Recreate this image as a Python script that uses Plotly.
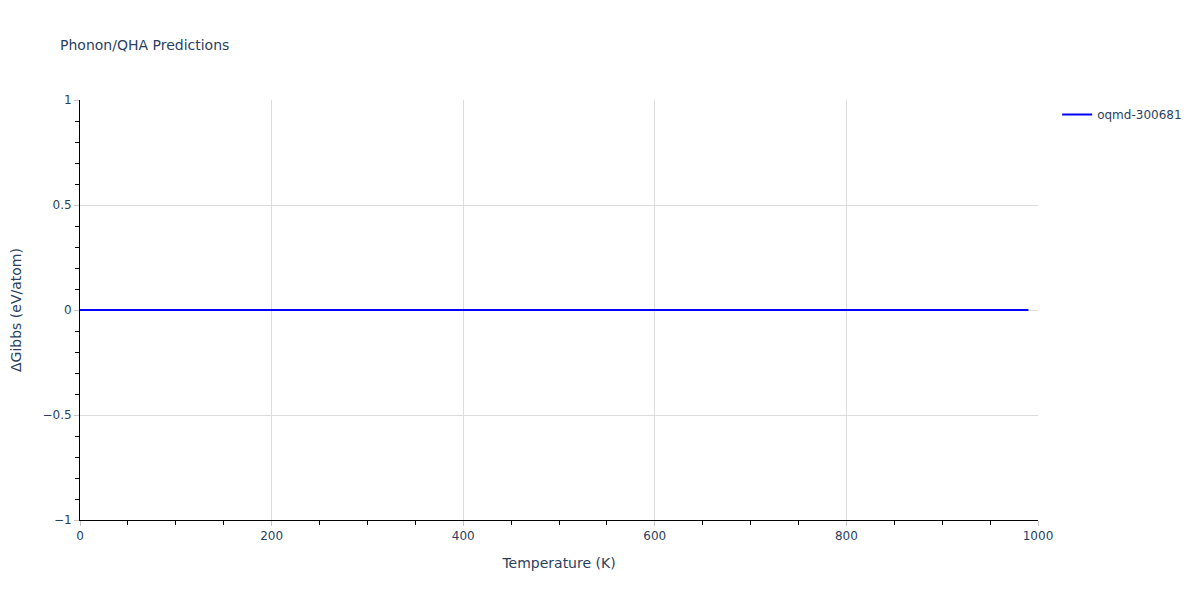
import plotly.graph_objects as go

temperature_k = [
    0, 10, 20, 30, 40, 50, 60, 70, 80, 90,
    100, 110, 120, 130, 140, 150, 160, 170, 180, 190,
    200, 210, 220, 230, 240, 250, 260, 270, 280, 290,
    300, 310, 320, 330, 340, 350, 360, 370, 380, 390,
    400, 410, 420, 430, 440, 450, 460, 470, 480, 490,
    500, 510, 520, 530, 540, 550, 560, 570, 580, 590,
    600, 610, 620, 630, 640, 650, 660, 670, 680, 690,
    700, 710, 720, 730, 740, 750, 760, 770, 780, 790,
    800, 810, 820, 830, 840, 850, 860, 870, 880, 890,
    900, 910, 920, 930, 940, 950, 960, 970, 980, 990,
]
delta_gibbs = [
    0, 0, 0, 0, 0, 0, 0, 0, 0, 0,
    0, 0, 0, 0, 0, 0, 0, 0, 0, 0,
    0, 0, 0, 0, 0, 0, 0, 0, 0, 0,
    0, 0, 0, 0, 0, 0, 0, 0, 0, 0,
    0, 0, 0, 0, 0, 0, 0, 0, 0, 0,
    0, 0, 0, 0, 0, 0, 0, 0, 0, 0,
    0, 0, 0, 0, 0, 0, 0, 0, 0, 0,
    0, 0, 0, 0, 0, 0, 0, 0, 0, 0,
    0, 0, 0, 0, 0, 0, 0, 0, 0, 0,
    0, 0, 0, 0, 0, 0, 0, 0, 0, 0,
]
series_name = "oqmd-300681"

FONT = "Verdana, DejaVu Sans, sans-serif"

fig = go.Figure()
fig.add_trace(go.Scatter(
    x=temperature_k, y=delta_gibbs, mode="lines", name=series_name,
    line=dict(color="blue", width=2), showlegend=True,
))

axis_common = dict(
    showline=True, linecolor="black", linewidth=1,
    ticks="outside", tickcolor="#c8c8c8", ticklen=5,
    showgrid=True, gridcolor="#dcdcdc", gridwidth=1,
    zeroline=False, automargin=False,
    tickfont=dict(color="#2a3f5f", size=12),
)

fig.update_layout(
    width=1200, height=600,
    template="plotly_white",
    font=dict(family=FONT, color="#2a3f5f", size=12),
    title=dict(text="Phonon/QHA Predictions", x=52 / 1200, xanchor="left",
               y=1 - 37 / 600, yanchor="middle",
               font=dict(size=14, color="#2a3f5f", family=FONT)),
    margin=dict(l=72, r=170, t=92, b=88),
    plot_bgcolor="white", paper_bgcolor="white",
    xaxis=dict(title=dict(text="Temperature (K)"), range=[0, 1000], dtick=200,
               minor=dict(ticks="outside", dtick=50, ticklen=4, tickcolor="black", showgrid=False),
               **axis_common),
    yaxis=dict(title=dict(text="ΔGibbs (eV/atom)", standoff=20), range=[-1, 1], dtick=0.5,
               minor=dict(ticks="outside", dtick=0.1, ticklen=4, tickcolor="black", showgrid=False),
               **axis_common),
    legend=dict(x=1.02, y=1, xanchor="left", yanchor="top", font=dict(color="#2a3f5f")),
)

fig.write_html("out.html")
